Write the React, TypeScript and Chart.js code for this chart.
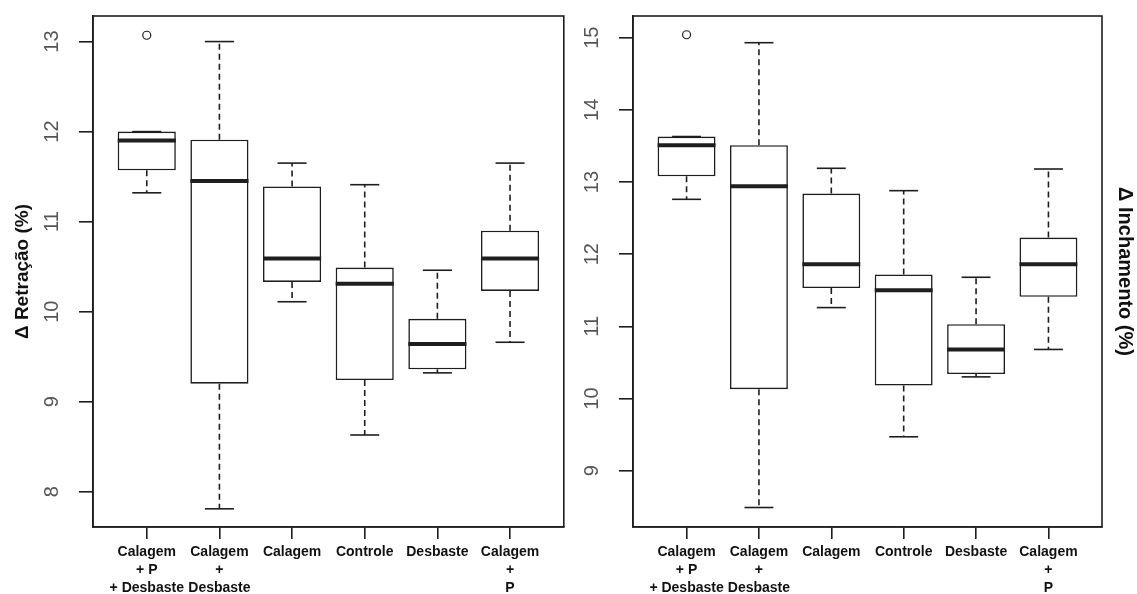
import React, { useEffect, useRef } from "react";
import { Chart, registerables } from "chart.js";

Chart.register(...registerables);

// ---------- data ----------
const categories: string[][] = [
  ["Calagem", "+ P", "+ Desbaste"],
  ["Calagem", "+", "Desbaste"],
  ["Calagem"],
  ["Controle"],
  ["Desbaste"],
  ["Calagem", "+", "P"],
];
const positions = [1, 2, 3, 4, 5, 6];

const retracaoMin = [11.32, 7.81, 10.11, 8.63, 9.32, 9.66];
const retracaoQ1 = [11.57, 9.2, 10.33, 9.24, 9.36, 10.23];
const retracaoMedian = [11.9, 11.45, 10.59, 10.31, 9.64, 10.59];
const retracaoQ3 = [12.0, 11.91, 11.39, 10.49, 9.92, 10.9];
const retracaoMax = [12.0, 13.0, 11.65, 11.41, 10.46, 11.65];
const retracaoOutliers = [{ x: 1, y: 13.07 }];
const retracaoTicks = [8, 9, 10, 11, 12, 13];

const inchamentoMin = [12.76, 8.49, 11.26, 9.47, 10.3, 10.68];
const inchamentoQ1 = [13.08, 10.13, 11.53, 10.18, 10.34, 11.41];
const inchamentoMedian = [13.51, 12.94, 11.86, 11.5, 10.68, 11.86];
const inchamentoQ3 = [13.63, 13.51, 12.84, 11.72, 11.03, 12.23];
const inchamentoMax = [13.63, 14.93, 13.19, 12.88, 11.68, 13.18];
const inchamentoOutliers = [{ x: 1, y: 15.04 }];
const inchamentoTicks = [9, 10, 11, 12, 13, 14, 15];

// ---------- styling ----------
const LINE = "#1e1e1e";
const FAMILY = "'Liberation Sans', Arial, Helvetica, sans-serif";

type PanelSpec = {
  min: number[];
  q1: number[];
  median: number[];
  q3: number[];
  max: number[];
  outliers: { x: number; y: number }[];
  yMin: number;
  yMax: number;
  yTicks: number[];
  title: string;
  titleSide: "left" | "right";
  titleSize: number;
  width: number;
  leftWidth: number;
  rightWidth: number;
  padRight: number;
};

function Panel({ spec, left }: { spec: PanelSpec; left: number }) {
  const ref = useRef<HTMLCanvasElement | null>(null);

  useEffect(() => {
    const canvas = ref.current;
    if (!canvas) return;

    const boxPlugin = {
      id: "boxWhiskers",
      afterDatasetsDraw(chart: any) {
        const { ctx, chartArea, scales } = chart;
        const x = scales.x;
        const y = scales.y;
        ctx.save();
        ctx.strokeStyle = LINE;
        ctx.lineCap = "butt";
        const seg = (x1: number, y1: number, x2: number, y2: number) => {
          ctx.beginPath();
          ctx.moveTo(x1, y1);
          ctx.lineTo(x2, y2);
          ctx.stroke();
        };
        positions.forEach((pos, i) => {
          const cx = x.getPixelForValue(pos);
          const half = (x.getPixelForValue(pos + 0.4) - x.getPixelForValue(pos - 0.4)) / 2;
          const capHalf = half / 2;
          const yMaxP = y.getPixelForValue(spec.max[i]);
          const yMinP = y.getPixelForValue(spec.min[i]);
          const yQ1 = y.getPixelForValue(spec.q1[i]);
          const yQ3 = y.getPixelForValue(spec.q3[i]);
          const yMed = y.getPixelForValue(spec.median[i]);
          ctx.lineWidth = 1.6;
          ctx.setLineDash([6, 4]);
          if (yQ3 - yMaxP > 1) seg(cx, yQ3, cx, yMaxP);
          if (yMinP - yQ1 > 1) seg(cx, yQ1, cx, yMinP);
          ctx.setLineDash([]);
          seg(cx - capHalf, yMaxP, cx + capHalf, yMaxP);
          seg(cx - capHalf, yMinP, cx + capHalf, yMinP);
          ctx.lineWidth = 4;
          seg(cx - half, yMed, cx + half, yMed);
        });
        ctx.lineWidth = 1.6;
        ctx.strokeRect(
          chartArea.left,
          chartArea.top,
          chartArea.right - chartArea.left,
          chartArea.bottom - chartArea.top
        );
        ctx.restore();
      },
    };

    const titleCfg = {
      display: true,
      text: spec.title,
      color: "#111",
      font: {
        family: FAMILY,
        size: spec.titleSize,
        weight: "bold" as const,
        lineHeight: 1.2,
      },
      padding: { top: spec.titleSide === "left" ? 11 : 0, bottom: 0 },
    };

    const scales: any = {
      x: {
        type: "linear",
        offset: false,
        min: 0.26,
        max: 6.74,
        afterBuildTicks: (s: any) => {
          s.ticks = positions.map((v) => ({ value: v }));
        },
        afterFit: (s: any) => {
          s.height = 67;
          s.paddingLeft = 0;
          s.paddingRight = 0;
        },
        grid: {
          display: true,
          offset: false,
          drawOnChartArea: false,
          drawTicks: true,
          tickLength: 12,
          color: LINE,
          lineWidth: 1.6,
        },
        border: { display: true, color: LINE, width: 1.6 },
        ticks: {
          autoSkip: false,
          minRotation: 0,
          maxRotation: 0,
          padding: 4,
          color: "#111",
          font: { family: FAMILY, size: 14, weight: "bold", lineHeight: 1.3 },
          callback: (v: number) => {
            const idx = positions.indexOf(v);
            return idx >= 0 ? categories[idx] : "";
          },
        },
      },
      y: {
        type: "linear",
        position: "left",
        min: spec.yMin,
        max: spec.yMax,
        afterBuildTicks: (s: any) => {
          s.ticks = spec.yTicks.map((v) => ({ value: v }));
        },
        afterFit: (s: any) => {
          s.width = spec.leftWidth;
          s.paddingTop = 0;
          s.paddingBottom = 0;
        },
        grid: {
          display: true,
          drawOnChartArea: false,
          drawTicks: true,
          tickLength: 14,
          color: LINE,
          lineWidth: 1.6,
        },
        border: { display: true, color: LINE, width: 1.6 },
        ticks: {
          minRotation: 90,
          maxRotation: 90,
          crossAlign: "center",
          padding: 15,
          color: "#555",
          font: { family: FAMILY, size: 20 },
        },
        title: spec.titleSide === "left" ? titleCfg : { display: false },
      },
    };
    if (spec.titleSide === "right") {
      scales.y2 = {
        type: "linear",
        position: "right",
        min: spec.yMin,
        max: spec.yMax,
        afterFit: (s: any) => {
          s.width = spec.rightWidth;
          s.paddingTop = 0;
          s.paddingBottom = 0;
        },
        grid: { display: false, drawTicks: false },
        border: { display: false },
        ticks: { display: false },
        title: titleCfg,
      };
    }

    const chart = new Chart(canvas, {
      type: "bar",
      data: {
        datasets: [
          {
            type: "bar",
            label: "box",
            data: positions.map((p, i) => ({ x: p, y: [spec.q1[i], spec.q3[i]] })) as any,
            backgroundColor: "#ffffff",
            borderColor: LINE,
            borderWidth: 1.6,
            borderSkipped: false,
            categoryPercentage: 1,
            barPercentage: 0.8,
          } as any,
          {
            type: "scatter",
            label: "outliers",
            data: spec.outliers,
            pointStyle: "circle",
            pointRadius: 4,
            pointBorderWidth: 1.2,
            pointBorderColor: LINE,
            pointBackgroundColor: "#ffffff",
          } as any,
        ],
      },
      options: {
        animation: false,
        responsive: false,
        maintainAspectRatio: false,
        layout: { padding: { top: 16, bottom: 0, left: 0, right: spec.padRight } },
        plugins: {
          legend: { display: false },
          tooltip: { enabled: false },
          title: { display: false },
        },
        scales,
      },
      plugins: [boxPlugin],
    });

    return () => chart.destroy();
  }, [spec]);

  return (
    <canvas
      ref={ref}
      width={spec.width}
      height={594}
      style={{ position: "absolute", left, top: 0, width: spec.width, height: 594 }}
    />
  );
}

const leftSpec: PanelSpec = {
  min: retracaoMin,
  q1: retracaoQ1,
  median: retracaoMedian,
  q3: retracaoQ3,
  max: retracaoMax,
  outliers: retracaoOutliers,
  yMin: 7.608,
  yMax: 13.284,
  yTicks: retracaoTicks,
  title: "Δ Retração (%)",
  titleSide: "left",
  titleSize: 19,
  width: 569,
  leftWidth: 93,
  rightWidth: 0,
  padRight: 2,
};

const rightSpec: PanelSpec = {
  min: inchamentoMin,
  q1: inchamentoQ1,
  median: inchamentoMedian,
  q3: inchamentoQ3,
  max: inchamentoMax,
  outliers: inchamentoOutliers,
  yMin: 8.22,
  yMax: 15.3,
  yTicks: inchamentoTicks,
  title: "Δ Inchamento (%)",
  titleSide: "right",
  titleSize: 20,
  width: 571,
  leftWidth: 67,
  rightWidth: 35,
  padRight: 0,
};

export default function App() {
  return (
    <div
      style={{
        position: "fixed",
        left: 0,
        top: 0,
        width: 1137,
        height: 594,
        background: "#ffffff",
        overflow: "hidden",
      }}
    >
      <Panel spec={leftSpec} left={0} />
      <Panel spec={rightSpec} left={566} />
    </div>
  );
}
